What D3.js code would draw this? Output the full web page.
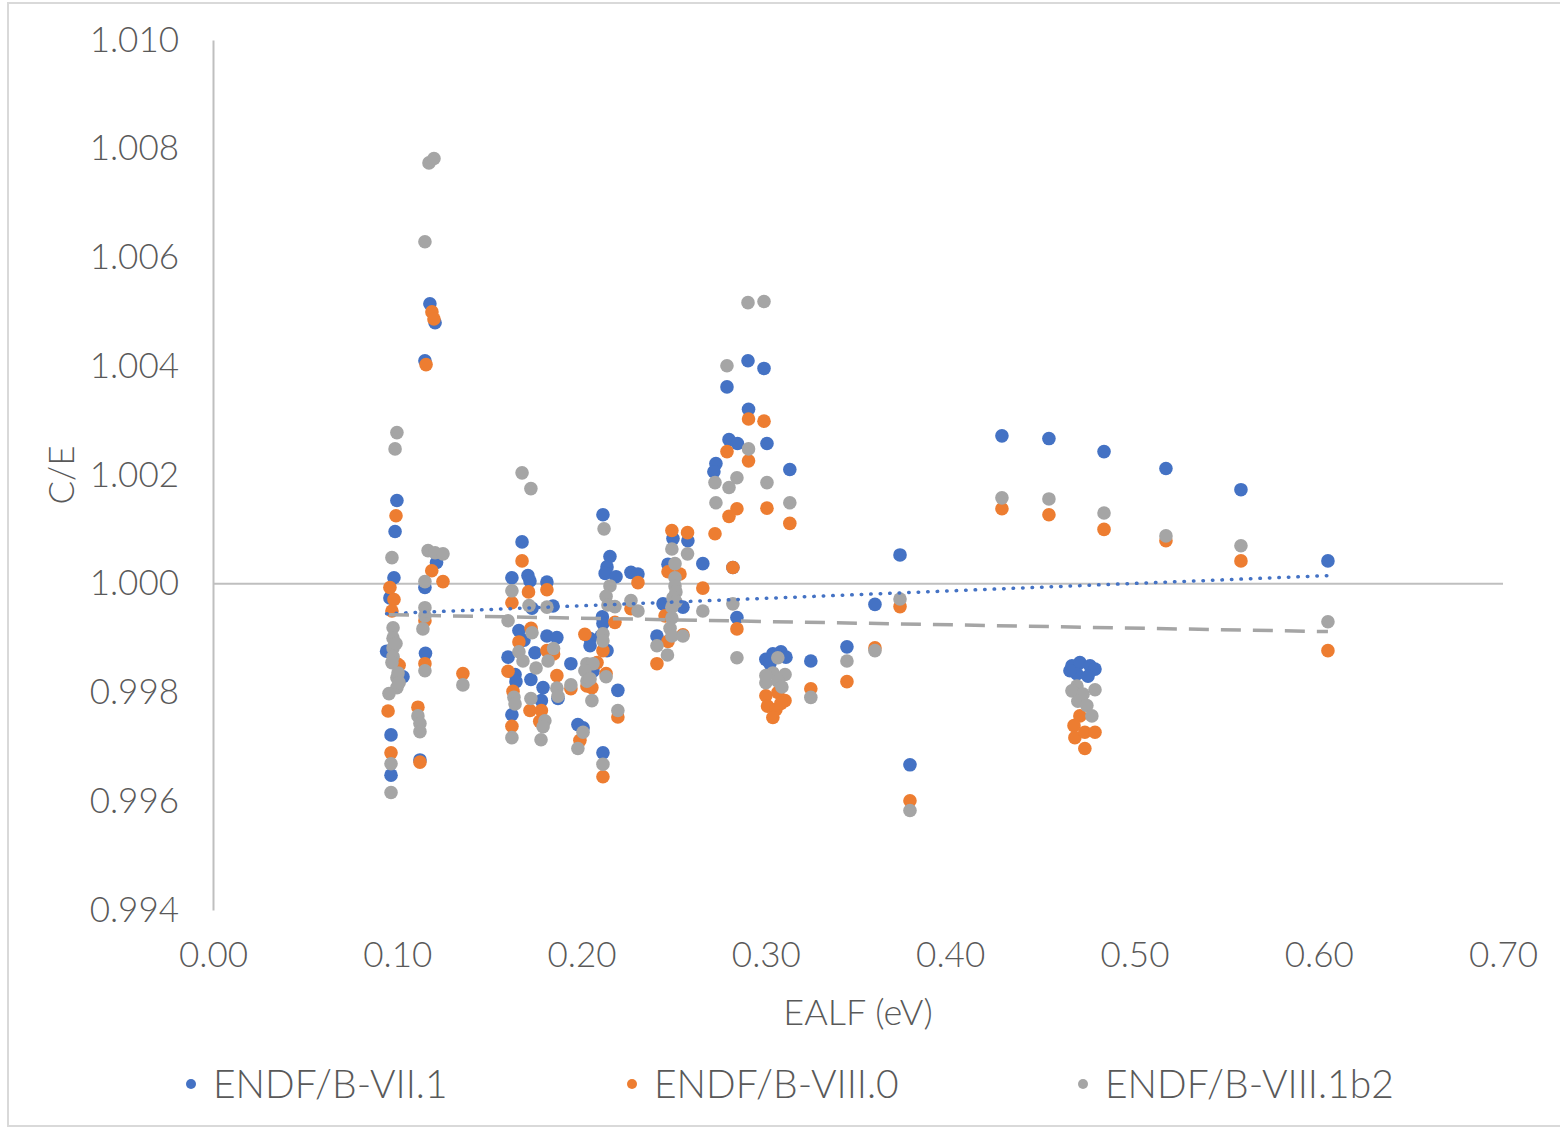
<!DOCTYPE html>
<html>
<head>
<meta charset="utf-8">
<script src="https://cdn.jsdelivr.net/npm/d3@7"></script>
<style>
  body { margin: 0; background: #fff; }
  text { font-family: "Century Gothic", "Lato", "DejaVu Sans", sans-serif; font-weight: 300; fill: #595959; }
</style>
</head>
<body>
<div id="chart"></div>
<script>
// EALF (eV), C/E pairs
var endf71 = [
  [0.0998,1.00153],[0.0988,1.00096],[0.0982,1.00011],[0.0960,0.99974],[0.0942,0.99876],
  [0.1031,0.99829],[0.0966,0.99722],[0.0966,0.99648],
  [0.1177,1.00515],[0.1205,1.00480],[0.1150,1.00410],[0.1213,1.00039],[0.1150,0.99993],
  [0.1153,0.99872],[0.1123,0.99676],
  [0.1677,1.00077],[0.1622,1.00011],[0.1709,1.00015],[0.1720,1.00005],[0.1812,1.00003],
  [0.1731,0.99955],[0.1845,0.99959],[0.1660,0.99914],[0.1687,0.99896],[0.1747,0.99873],
  [0.1601,0.99865],[0.1639,0.99833],[0.1644,0.99820],[0.1725,0.99824],[0.1812,0.99904],
  [0.1866,0.99901],[0.1872,0.99789],[0.1791,0.99809],[0.1782,0.99785],[0.1622,0.99759],
  [0.1942,0.99853],[0.2046,0.99899],[0.2046,0.99886],[0.2062,0.99839],[0.2116,1.00127],
  [0.2154,1.00050],[0.2138,1.00031],[0.2128,1.00019],[0.2187,1.00013],[0.2113,0.99939],
  [0.2116,0.99927],[0.2138,0.99877],[0.2106,0.99904],[0.2197,0.99804],[0.1980,0.99741],
  [0.2008,0.99735],[0.2116,0.99689],[0.2268,1.00021],[0.2306,1.00018],[0.2409,0.99904],
  [0.2496,1.00083],[0.2577,1.00079],[0.2469,1.00036],[0.2442,0.99963],[0.2550,0.99957],
  [0.2658,1.00037],[0.2843,0.99938],
  [0.2729,1.00221],[0.2718,1.00206],[0.2789,1.00362],[0.2800,1.00265],[0.2846,1.00258],
  [0.2903,1.00410],[0.2990,1.00396],[0.2906,1.00321],[0.3006,1.00258],[0.3130,1.00210],
  [0.2821,1.00030],
  [0.3000,0.99861],[0.3038,0.99871],[0.3082,0.99875],[0.3109,0.99865],[0.3022,0.99853],
  [0.3244,0.99858],[0.3440,0.99884],[0.3592,0.99962],[0.3728,1.00053],[0.3782,0.99667],
  [0.4281,1.00272],[0.4536,1.00267],
  [0.4661,0.99849],[0.4704,0.99855],[0.4759,0.99849],[0.4786,0.99843],[0.4688,0.99834],
  [0.4748,0.99830],[0.4650,0.99840],
  [0.4835,1.00243],[0.5171,1.00212],[0.5578,1.00173],[0.6050,1.00042]
];

var endf80 = [
  [0.0993,1.00125],[0.0960,0.99993],[0.0982,0.99971],[0.0971,0.99950],[0.0998,0.99853],
  [0.0950,0.99766],[0.0966,0.99689],[0.1010,0.99850],
  [0.1188,1.00500],[0.1199,1.00487],[0.1156,1.00403],[0.1187,1.00024],[0.1248,1.00004],
  [0.1150,0.99932],[0.1150,0.99853],[0.1112,0.99773],[0.1123,0.99672],[0.1356,0.99835],
  [0.1677,1.00042],[0.1622,0.99965],[0.1712,0.99985],[0.1812,0.99989],[0.1726,0.99918],
  [0.1660,0.99893],[0.1601,0.99839],[0.1812,0.99877],[0.1848,0.99871],[0.1866,0.99831],
  [0.1628,0.99802],[0.1720,0.99767],[0.1782,0.99767],[0.1773,0.99747],[0.1622,0.99738],
  [0.1942,0.99807],[0.2018,0.99907],[0.2084,0.99855],[0.2029,0.99812],[0.2056,0.99809],
  [0.2181,0.99929],[0.2116,0.99877],[0.2133,0.99835],[0.2197,0.99755],[0.1991,0.99712],
  [0.2116,0.99645],[0.2306,1.00002],[0.2268,0.99954],[0.2409,0.99853],
  [0.2490,1.00098],[0.2575,1.00094],[0.2469,1.00022],[0.2534,1.00018],[0.2453,0.99941],
  [0.2550,0.99906],[0.2469,0.99894],[0.2658,0.99992],[0.2821,1.00030],[0.2843,0.99917],
  [0.2724,1.00092],[0.2789,1.00243],[0.2843,1.00138],[0.2800,1.00124],[0.2906,1.00303],
  [0.2906,1.00226],[0.2990,1.00299],[0.3006,1.00139],[0.3130,1.00111],
  [0.3000,0.99794],[0.3065,0.99800],[0.3104,0.99785],[0.3009,0.99775],[0.3055,0.99769],
  [0.3038,0.99754],[0.3082,0.99780],
  [0.3244,0.99807],[0.3440,0.99820],[0.3592,0.99882],[0.3728,0.99958],[0.3782,0.99601],
  [0.4281,1.00138],[0.4536,1.00127],
  [0.4704,0.99757],[0.4672,0.99739],[0.4677,0.99717],[0.4731,0.99727],[0.4786,0.99727],
  [0.4731,0.99697],
  [0.4835,1.00100],[0.5171,1.00079],[0.5578,1.00042],[0.6050,0.99877]
];

var endf81b2 = [
  [0.0998,1.00278],[0.0988,1.00248],[0.0971,1.00048],[0.0977,0.99919],[0.0977,0.99900],
  [0.0977,0.99882],[0.0977,0.99866],[0.0971,0.99855],[0.0998,0.99827],[0.0998,0.99809],
  [0.0955,0.99798],[0.0966,0.99669],[0.0966,0.99616],[0.0993,0.99890],[0.1004,0.99836],
  [0.1010,0.99818],
  [0.1172,1.00774],[0.1199,1.00782],[0.1150,1.00629],[0.1167,1.00061],[0.1205,1.00057],
  [0.1248,1.00055],[0.1150,1.00004],[0.1150,0.99956],[0.1150,0.99941],[0.1139,0.99917],
  [0.1150,0.99840],[0.1112,0.99757],[0.1123,0.99743],[0.1123,0.99728],[0.1356,0.99814],
  [0.1677,1.00204],[0.1725,1.00175],[0.1622,0.99987],[0.1715,0.99960],[0.1601,0.99932],
  [0.1812,0.99957],[0.1731,0.99910],[0.1660,0.99875],[0.1682,0.99858],[0.1753,0.99845],
  [0.1848,0.99881],[0.1818,0.99858],[0.1866,0.99808],[0.1872,0.99793],[0.1633,0.99791],
  [0.1639,0.99779],[0.1725,0.99789],[0.1801,0.99748],[0.1791,0.99737],[0.1622,0.99717],
  [0.1780,0.99713],[0.1942,0.99814],[0.2029,0.99853],[0.2062,0.99853],[0.2018,0.99840],
  [0.2029,0.99821],[0.2046,0.99825],[0.2056,0.99785],[0.2122,1.00101],[0.2154,0.99996],
  [0.2133,0.99977],[0.2143,0.99961],[0.2181,0.99958],[0.2116,0.99908],[0.2116,0.99895],
  [0.2133,0.99829],[0.2197,0.99767],[0.2008,0.99727],[0.1980,0.99697],[0.2116,0.99668],
  [0.2268,0.99969],[0.2306,0.99950],[0.2409,0.99886],
  [0.2490,1.00064],[0.2575,1.00055],[0.2507,1.00037],[0.2507,1.00011],[0.2507,0.99996],
  [0.2512,0.99985],[0.2496,0.99974],[0.2512,0.99967],[0.2490,0.99957],[0.2490,0.99937],
  [0.2480,0.99918],[0.2490,0.99904],[0.2550,0.99904],[0.2466,0.99869],[0.2658,0.99950],
  [0.2821,0.99963],[0.2843,0.99864],
  [0.2724,1.00186],[0.2729,1.00149],[0.2789,1.00401],[0.2800,1.00177],[0.2843,1.00195],
  [0.2903,1.00517],[0.2990,1.00519],[0.2906,1.00248],[0.3006,1.00186],[0.3130,1.00149],
  [0.3065,0.99864],[0.3038,0.99836],[0.3104,0.99833],[0.3000,0.99818],[0.3065,0.99821],
  [0.3000,0.99831],[0.3087,0.99810],
  [0.3244,0.99791],[0.3440,0.99858],[0.3592,0.99877],[0.3728,0.99972],[0.3782,0.99583],
  [0.4281,1.00158],[0.4536,1.00156],
  [0.4688,0.99812],[0.4661,0.99803],[0.4721,0.99797],[0.4786,0.99805],[0.4693,0.99784],
  [0.4742,0.99776],[0.4769,0.99757],
  [0.4835,1.00130],[0.5171,1.00088],[0.5578,1.00070],[0.6050,0.99930]
];

// linear trendlines (end points)
var trend71   = [[0.0942,0.99945],[0.6050,1.00015]];
var trend81b2 = [[0.0955,0.99943],[0.6050,0.99912]];

var seriesNames  = ["ENDF/B-VII.1", "ENDF/B-VIII.0", "ENDF/B-VIII.1b2"];
var seriesColors = ["#4472C4", "#ED7D31", "#A5A5A5"];
var xTicks = [0, 0.1, 0.2, 0.3, 0.4, 0.5, 0.6, 0.7];
var yTicks = [0.994, 0.996, 0.998, 1.000, 1.002, 1.004, 1.006, 1.008, 1.010];

var W = 1560, H = 1129;
var margin = {top: 40, right: 57, bottom: 219, left: 213};

var svg = d3.select("#chart").append("svg")
    .attr("width", W)
    .attr("height", H);

// chart frame
svg.append("rect")
    .attr("x", 8).attr("y", 3)
    .attr("width", W + 20).attr("height", H - 6)
    .attr("fill", "none")
    .attr("stroke", "#d9d9d9")
    .attr("stroke-width", 2);

var x = d3.scaleLinear().domain([0, 0.7]).range([margin.left, W - margin.right]);
var y = d3.scaleLinear().domain([0.994, 1.010]).range([H - margin.bottom, margin.top]);

// y axis
var yAxis = svg.append("g")
    .attr("transform", "translate(" + margin.left + ",0)")
    .call(d3.axisLeft(y).tickValues(yTicks).tickSize(0).tickPadding(34).tickFormat(d3.format(".3f")));
yAxis.select(".domain").attr("stroke", "#bfbfbf").attr("stroke-width", 2);
yAxis.selectAll("text").style("font-size", "35px").attr("fill", "#595959");

// x axis labels at the bottom, axis line crossing at 1.000
var xAxis = svg.append("g")
    .attr("transform", "translate(0," + (H - margin.bottom) + ")")
    .call(d3.axisBottom(x).tickValues(xTicks).tickSize(0).tickPadding(32).tickFormat(d3.format(".2f")));
xAxis.select(".domain").remove();
xAxis.selectAll("text").style("font-size", "35px").attr("fill", "#595959");

svg.append("line")
    .attr("x1", x(0)).attr("x2", x(0.7))
    .attr("y1", y(1)).attr("y2", y(1))
    .attr("stroke", "#bfbfbf")
    .attr("stroke-width", 2);

// axis titles
svg.append("text")
    .attr("transform", "translate(74," + y(1.002) + ") rotate(-90)")
    .attr("text-anchor", "middle")
    .style("font-size", "35px")
    .text("C/E");

svg.append("text")
    .attr("x", (x(0) + x(0.7)) / 2)
    .attr("y", 1025)
    .attr("text-anchor", "middle")
    .style("font-size", "36px")
    .text("EALF (eV)");

// points
var allSeries = [endf71, endf80, endf81b2];
allSeries.forEach(function (data, i) {
  svg.append("g").selectAll("circle")
      .data(data)
      .enter()
      .append("circle")
      .attr("cx", function (d) { return x(d[0]); })
      .attr("cy", function (d) { return y(d[1]); })
      .attr("r", 6.8)
      .attr("fill", seriesColors[i]);
});

// trendlines
var line = d3.line()
    .x(function (d) { return x(d[0]); })
    .y(function (d) { return y(d[1]); });

svg.append("path")
    .datum(trend71)
    .attr("d", line)
    .attr("fill", "none")
    .attr("stroke", "#4472C4")
    .attr("stroke-width", 3.5)
    .attr("stroke-linecap", "round")
    .attr("stroke-dasharray", "0.5 9");

svg.append("path")
    .datum(trend81b2)
    .attr("d", line)
    .attr("fill", "none")
    .attr("stroke", "#A5A5A5")
    .attr("stroke-width", 3.5)
    .attr("stroke-dasharray", "20 12");

// legend
var legendX = [191, 632, 1083];
var legend = svg.selectAll(".legend")
    .data(seriesNames)
    .enter()
    .append("g")
    .attr("class", "legend")
    .attr("transform", function (d, i) { return "translate(" + legendX[i] + ",1084)"; });

legend.append("circle")
    .attr("r", 5)
    .attr("fill", function (d, i) { return seriesColors[i]; });

legend.append("text")
    .attr("x", 22)
    .attr("dy", "0.36em")
    .style("font-size", "39px")
    .text(function (d) { return d; });
</script>
</body>
</html>
